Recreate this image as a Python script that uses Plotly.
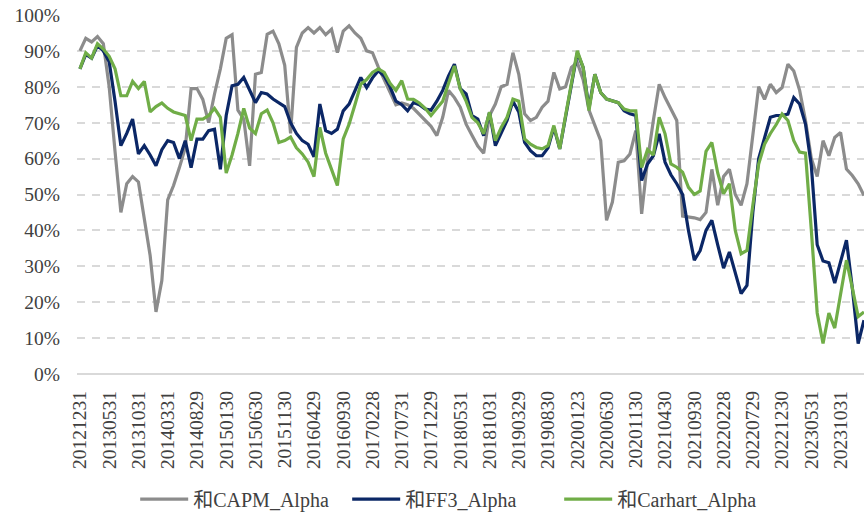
import pandas as pd
import plotly.graph_objects as go

TICK_LABELS = [
    "20121231", "20130531", "20131031", "20140331", "20140829", "20150130",
    "20150630", "20151130", "20160429", "20160930", "20170228", "20170731",
    "20171229", "20180531", "20181031", "20190329", "20190830", "20200123",
    "20200630", "20201130", "20210430", "20210930", "20220228", "20220729",
    "20221230", "20230531", "20231031",
]

CAPM_ALPHA = [
    90, 93.5, 92.5, 94, 92, 80, 62, 45, 53, 55,
    53.5, 43, 33, 17.3, 26, 48.5, 52.5, 57.5, 63, 79.5,
    79.5, 76.5, 70, 78, 85, 93.5, 94.5, 73.5, 71, 58,
    83.5, 84, 94.6, 95.5, 92, 86, 67, 91, 95, 96.5,
    95, 96.5, 94.5, 96, 89.5, 95.5, 97, 95, 93.5, 90,
    89.5, 85.5, 82, 78, 75, 75.5, 75, 74, 72.4, 70.5,
    69, 66.4, 71.5, 79, 77, 74.3, 69.6, 66.5, 63.5, 61.5,
    72, 75.2, 80, 80.7, 89.5, 83.5, 72.5, 70.6, 71.5, 74.3,
    76, 84, 79.4, 80, 85.4, 86.8, 82, 73.5, 69, 65,
    42.8, 47.9, 59, 59.4, 61.3, 67.8, 44.6, 59.4, 70.6, 80.7,
    77, 73.8, 70.6, 44, 43.8, 43.5, 43, 45, 57, 47,
    55, 57, 50, 47, 53, 66, 80, 76.5, 80.7, 78.4,
    79.8, 86.3, 84.4, 79, 70.6, 60, 55, 65, 60.8, 65.9,
    67.3, 57.1, 55.3, 53, 49.7,
]

FF3_ALPHA = [
    85, 89, 88, 91.5, 90, 87, 76, 63.6, 67, 71,
    61.3, 63.6, 61, 58, 62.5, 65, 64.5, 60, 65, 57.5,
    65.4, 65.4, 67.8, 68.2, 57, 72, 80.3, 80.7, 82.6, 79,
    75.6, 78.4, 78, 76.6, 75.5, 74.5, 70, 67, 65, 64,
    60.5, 75.2, 67.8, 67, 68.2, 73.3, 75.2, 79, 82.6, 79.8,
    82.5, 84.5, 83, 80, 76, 75, 73.3, 75.6, 75, 73.8,
    73.5, 76, 79, 83, 86.3, 79.5, 78, 72, 71, 66.4,
    72.9, 63.6, 67, 70.6, 76, 73, 64.5, 62.2, 60.8, 60.8,
    63, 68.7, 62.7, 72, 81, 89.5, 85.4, 74, 83.5, 78.4,
    76.6, 76, 75.6, 73.3, 72.5, 72, 53.9, 58.5, 60.8, 66.9,
    59, 55.5, 53, 50, 40, 31.7, 34.4, 40, 42.8, 36,
    29.5, 34, 28, 22.4, 24.7, 45, 60, 66, 71.5, 72,
    72, 72.4, 77, 75.2, 69.6, 58, 36, 31.5, 31, 25.3,
    31, 37.3, 24, 8.5, 15,
]

CARHART_ALPHA = [
    85, 89.5, 88, 92, 90.5, 88.5, 85, 77.5, 77.5, 81.5,
    79.5, 81.5, 73, 74.5, 75.5, 74, 73, 72.5, 72, 65,
    71, 71, 72, 74, 71.5, 56, 61, 67, 74, 68.5,
    67, 72.5, 73.5, 70, 64.5, 65, 66, 63, 61.3, 59,
    55, 68.7, 61.5, 57, 52.5, 65.5, 69.6, 75, 80.7, 82,
    84, 85, 84, 81, 79, 81.7, 76.6, 76.5, 75.5, 74,
    72, 74, 76, 81, 85.8, 79.4, 76, 71.5, 70, 66.9,
    72.9, 65, 68.7, 71.5, 76.6, 76, 65.5, 64, 63.1, 62.7,
    63.6, 69.2, 62.7, 72, 81, 90, 85.4, 73.4, 83.5, 78.4,
    76.6, 76, 75.6, 73.8, 73.3, 73.3, 57.5, 62.5, 61, 71.5,
    66.9, 58.5, 57.6, 56.2, 52, 50, 51, 62, 64.5, 56,
    50.2, 53, 40, 33.5, 34.4, 47, 58.5, 64, 67, 69.5,
    72.4, 70.6, 65, 61.8, 61.5, 40, 17, 8.5, 17, 12.8,
    22, 31.7, 24, 16, 17.3,
]

SERIES = [
    ("和CAPM_Alpha", CAPM_ALPHA, "#8c8c8c"),
    ("和FF3_Alpha", FF3_ALPHA, "#0b2766"),
    ("和Carhart_Alpha", CARHART_ALPHA, "#70ad47"),
]

FONT = "Liberation Serif, 'Noto Sans CJK SC', serif"
GRID = "#d9d9d9"

# month-end trading days; every fifth one is a printed tick label
try:
    month_ends = pd.date_range("2012-12-31", periods=len(CAPM_ALPHA), freq="BME")
except ValueError:
    month_ends = pd.date_range("2012-12-31", periods=len(CAPM_ALPHA), freq="BM")
dates = list(month_ends.strftime("%Y%m%d"))
for k, label in enumerate(TICK_LABELS):
    dates[k * 5] = label

fig = go.Figure()
for name, values, color in SERIES:
    fig.add_trace(
        go.Scatter(
            x=dates,
            y=[v / 100 for v in values],
            name=name,
            mode="lines",
            line=dict(color=color, width=3.2),
        )
    )

fig.update_layout(
    width=864,
    height=513,
    paper_bgcolor="white",
    plot_bgcolor="white",
    font=dict(family=FONT, size=19.5, color="#404040"),
    margin=dict(l=77, r=0, t=15, b=139),
    showlegend=True,
    legend=dict(
        orientation="h",
        x=0.478,
        xanchor="center",
        yref="container",
        y=0.027,
        yanchor="middle",
        font=dict(size=20),
        itemwidth=48,
        entrywidth=149,
    ),
)
fig.update_xaxes(
    type="category",
    range=[-0.5, len(dates) - 1],
    tickmode="array",
    tickvals=TICK_LABELS,
    ticktext=TICK_LABELS,
    tickangle=-90,
    showgrid=False,
    showline=False,
    ticks="",
    ticklabelstandoff=12,
    automargin=False,
)
fig.update_yaxes(
    range=[0, 1],
    dtick=0.1,
    tickformat=".0%",
    showgrid=True,
    gridcolor=GRID,
    gridwidth=2,
    griddash="8px,7px",
    zeroline=True,
    zerolinecolor=GRID,
    zerolinewidth=2,
    showline=False,
    ticks="",
    ticklabelstandoff=16,
    ticklabeloverflow="allow",
    automargin=False,
)

# drop the browser's default body margin so the figure fills the window
fig.write_html(
    "out.html",
    config={"displayModeBar": False},
    post_script="document.body.style.margin = '0';",
)
